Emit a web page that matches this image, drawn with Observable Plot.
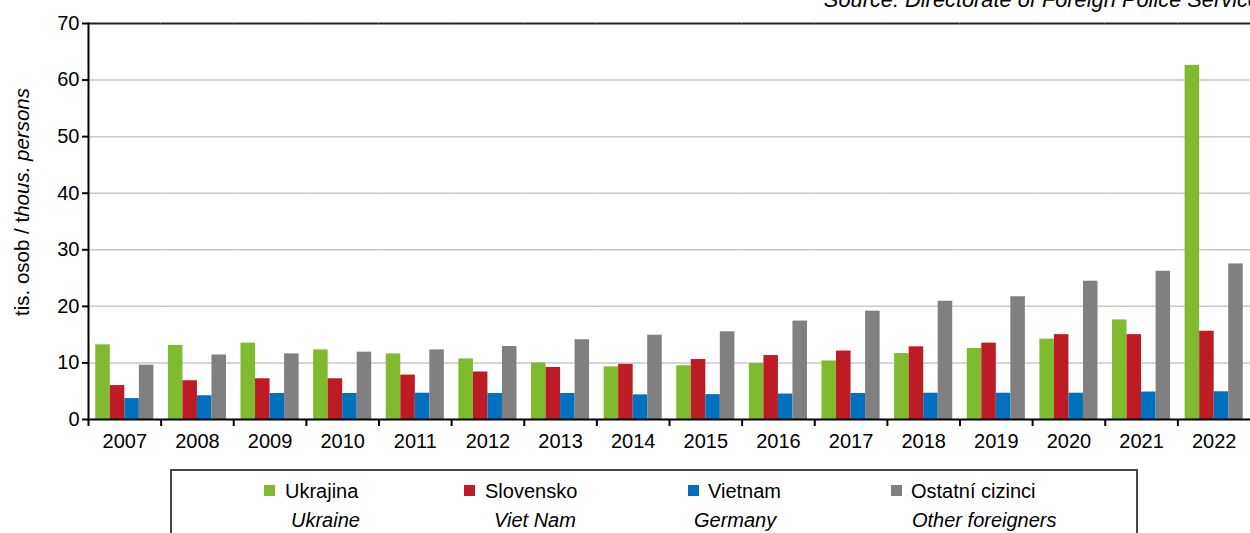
<!DOCTYPE html>
<html>
<head>
<meta charset="utf-8">
<script src="https://cdn.jsdelivr.net/npm/d3@7"></script>
<script src="https://cdn.jsdelivr.net/npm/@observablehq/plot@0.6"></script>
<style>
  html, body { margin: 0; padding: 0; background: #fff; }
  #wrap { position: relative; width: 1250px; height: 533px; overflow: hidden; font-family: "Liberation Sans", Arial, sans-serif; color: #000; }
  #source { position: absolute; top: -11px; right: -10px; font-size: 21.8px; line-height: 22px; font-style: italic; white-space: nowrap; }
  #ytitle { position: absolute; left: 22px; top: 202px; transform: translate(-50%, -50%) rotate(-90deg); font-size: 20.5px; white-space: nowrap; }
  #chart { position: absolute; left: 0; top: 0; }
  #legend { position: absolute; left: 170px; top: 469px; width: 968px; height: 90px; border: 2px solid #444; box-sizing: border-box; font-size: 20px; }
  .sw { position: absolute; width: 11px; height: 11px; }
  .nm { position: absolute; white-space: nowrap; line-height: 20px; }
  .en { position: absolute; white-space: nowrap; line-height: 20px; font-style: italic; }
</style>
</head>
<body>
<div id="wrap">
  <div id="chart"></div>
  <div id="source">Source: Directorate of Foreign Police Service</div>
  <div id="ytitle">tis. osob / t<i>hous. persons</i></div>
  <div id="legend"></div>
</div>
<script>
const years = [2007, 2008, 2009, 2010, 2011, 2012, 2013, 2014, 2015, 2016, 2017, 2018, 2019, 2020, 2021, 2022];
const series = ["Ukrajina", "Slovensko", "Vietnam", "Ostatní cizinci"];
const seriesEn = ["Ukraine", "Viet Nam", "Germany", "Other foreigners"];
const colors = ["#80BA2E", "#BE1C24", "#0070BF", "#808080"];

const ukrajina  = [13.2, 13.1, 13.5, 12.3, 11.6, 10.7, 10.0, 9.3, 9.5, 9.9, 10.35, 11.65, 12.55, 14.2, 17.6, 62.6];
const slovensko = [6.0, 6.85, 7.2, 7.2, 7.85, 8.4, 9.2, 9.75, 10.6, 11.3, 12.1, 12.85, 13.5, 15.0, 15.0, 15.6];
const vietnam   = [3.7, 4.2, 4.6, 4.6, 4.65, 4.6, 4.6, 4.35, 4.4, 4.5, 4.6, 4.65, 4.65, 4.65, 4.85, 4.9];
const ostatni   = [9.6, 11.4, 11.6, 11.9, 12.3, 12.9, 14.1, 14.9, 15.5, 17.4, 19.15, 20.9, 21.7, 24.45, 26.2, 27.5];
const yTicks = [0, 10, 20, 30, 40, 50, 60, 70];

const valuesBySeries = [ukrajina, slovensko, vietnam, ostatni];
const data = [];
years.forEach((yr, i) => {
  series.forEach((s, j) => data.push({year: yr, series: s, value: valuesBySeries[j][i]}));
});

const W = 1250, ML = 88, MR = 0;
const step = (W - ML - MR) / years.length;

const chart = Plot.plot({
  width: W,
  height: 465,
  marginTop: 23,
  marginBottom: 46,
  marginLeft: ML,
  marginRight: MR,
  style: {fontFamily: "'Liberation Sans', Arial, sans-serif", fontSize: "20px", color: "#000", background: "transparent", overflow: "visible"},
  fx: {domain: years, padding: 0, round: false, label: null},
  x: {domain: series, paddingInner: 0, paddingOuter: 0.5, round: false, axis: null},
  y: {domain: [0, 70], label: null},
  color: {domain: series, range: colors},
  marks: [
    Plot.gridY(yTicks.filter(t => t > 0 && t < 70), {stroke: "#c8c8c8", strokeOpacity: 1, strokeWidth: 1.5}),
    Plot.barY(data, {fx: "year", x: "series", y: "value", fill: "series"}),
    Plot.ruleY([0], {stroke: "#000", strokeWidth: 2}),
    Plot.ruleY([70], {stroke: "#222", strokeWidth: 2}),
    Plot.frame({anchor: "left", facetAnchor: "left", stroke: "#000", strokeWidth: 2}),
    Plot.axisY({ticks: yTicks, tickSize: 6, tickPadding: 3, fontSize: 20, stroke: "#000", strokeWidth: 2, label: null}),
    Plot.axisFx({anchor: "bottom", tickSize: 0, tickPadding: 14, fontSize: 20, tickFormat: d => String(d), label: null}),
    Plot.axisFx({anchor: "bottom", tickSize: 7, tickFormat: () => "", dx: -step / 2, stroke: "#000", strokeWidth: 2, label: null})
  ]
});
document.getElementById("chart").appendChild(chart);

// legend (HTML, below the SVG)
const legend = document.getElementById("legend");
const swX = [92, 292, 516, 719];
const nmX = [113, 313, 536, 739];
const enX = [119, 322, 522, 740];
series.forEach((s, i) => {
  const sw = document.createElement("div");
  sw.className = "sw";
  sw.style.left = swX[i] + "px";
  sw.style.top = "14px";
  sw.style.background = colors[i];
  legend.appendChild(sw);
  const nm = document.createElement("div");
  nm.className = "nm";
  nm.style.left = nmX[i] + "px";
  nm.style.top = "10px";
  nm.textContent = s;
  legend.appendChild(nm);
  const en = document.createElement("div");
  en.className = "en";
  en.style.left = enX[i] + "px";
  en.style.top = "39px";
  en.textContent = seriesEn[i];
  legend.appendChild(en);
});
</script>
</body>
</html>
